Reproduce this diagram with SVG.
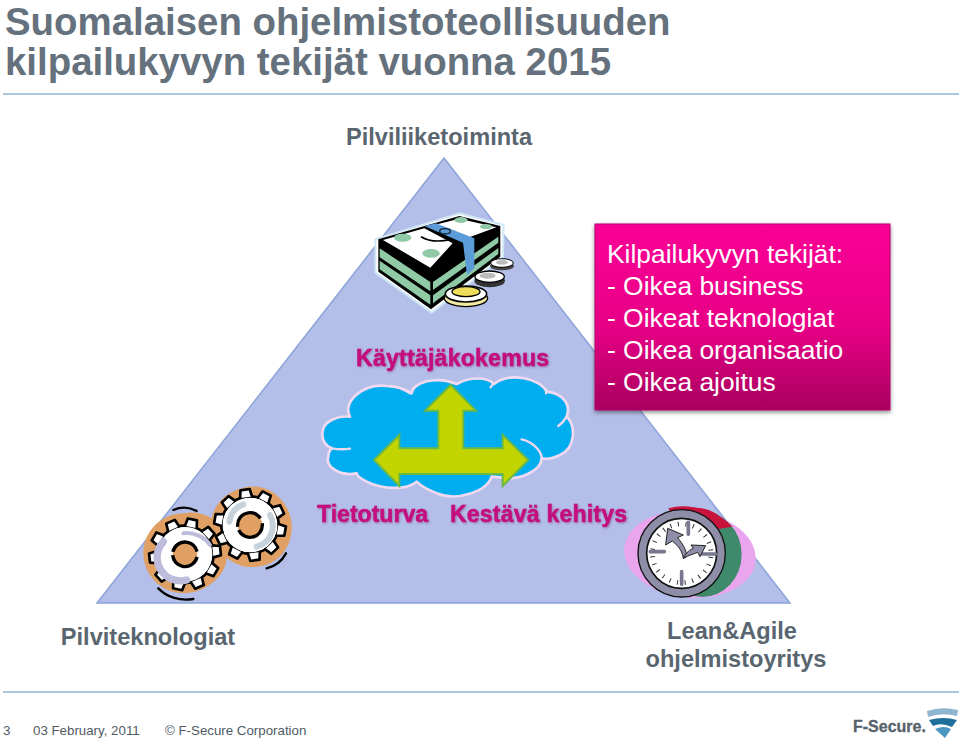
<svg xmlns="http://www.w3.org/2000/svg" width="960" height="739" viewBox="0 0 960 739">
<style>
text{font-family:"Liberation Sans",Arial,sans-serif}
.t{fill:#65717c;font-size:38.4px;font-weight:bold}
.l{fill:#5a666f;font-size:23.6px;font-weight:bold;text-anchor:middle}
.m{fill:#c4087e;font-size:23px;font-weight:bold;stroke:#c4087e;stroke-width:.5px;filter:url(#ts)}
.b{fill:#fff;font-size:26.4px}
.f{fill:#4f5b65;font-size:13.3px}
.rule{stroke:#8fb6d6;stroke-width:1.5;fill:none}
.tooth{fill:#fff;stroke:#000;stroke-width:8;stroke-linejoin:round;stroke-linecap:round}
</style>
<defs>
<linearGradient id="bx" x1="0" y1="0" x2="0" y2="1"><stop offset="0" stop-color="#fa0596"/><stop offset=".55" stop-color="#e80086"/><stop offset="1" stop-color="#a8005f"/></linearGradient>
<filter id="sh" x="-5%" y="-5%" width="110%" height="112%"><feDropShadow dx="0" dy="2" stdDeviation="2" flood-color="#000" flood-opacity=".45"/></filter>
<filter id="ts" x="-5%" y="-20%" width="110%" height="140%"><feDropShadow dx="1" dy="1" stdDeviation="1" flood-color="#7a2a6a" flood-opacity=".5"/></filter>
<path id="tooth" class="tooth" d="M-18-84L-14-107H14L18-84"/>
<g id="gear">
<circle r="86" fill="#fff" stroke="#000" stroke-width="8"/>
<use href="#tooth"/><use href="#tooth" transform="rotate(36)"/><use href="#tooth" transform="rotate(72)"/><use href="#tooth" transform="rotate(108)"/><use href="#tooth" transform="rotate(144)"/><use href="#tooth" transform="rotate(180)"/><use href="#tooth" transform="rotate(216)"/><use href="#tooth" transform="rotate(252)"/><use href="#tooth" transform="rotate(288)"/><use href="#tooth" transform="rotate(324)"/>
<circle r="81" fill="#fff"/>
<circle r="37" fill="#e0a063"/>
<circle r="37" fill="none" stroke="#000" stroke-width="10" stroke-dasharray="105 10 100 17"/>
</g>
</defs>
<rect width="960" height="739" fill="#fff"/>
<g id="header">
<text class="t" x="5" y="35">Suomalaisen ohjelmistoteollisuuden</text>
<text class="t" x="5" y="75">kilpailukyvyn tekijät vuonna 2015</text>
<line class="rule" x1="3" y1="94" x2="959" y2="94"/>
</g>
<g id="pyramid"><polygon points="444,158 97,603 790,603" fill="#b3bfe8" stroke="#8ca3d8" stroke-width="1.5"/></g>
<g id="node-pilviliiketoiminta"><text class="l" x="439" y="145">Pilviliiketoiminta</text></g>
<g id="node-money" transform="translate(341 200) scale(.3333)">
<path d="M103 118L355 40L488 75L486 172L272 338L103 218Z" fill="#fff" stroke="#cfe6f5" stroke-width="6" stroke-linejoin="round"/>
<path d="M112 118L355 48L478 78V170L270 328L112 215Z" fill="#000"/>
<path d="M116 145L268 246V274L116 172ZM116 182L268 286V314L116 208Z" fill="#8fc9a5"/>
<path d="M276 246L472 110V128L276 270ZM276 286L472 144V162L276 310Z" fill="#8fc9a5"/>
<path d="M126 120L250 85L335 130L268 203ZM268 78L355 56L466 82L385 112Z" fill="#fff"/>
<ellipse cx="185" cy="113" rx="26" ry="12" fill="#8fc9a5"/><ellipse cx="270" cy="160" rx="26" ry="13" fill="#8fc9a5"/><ellipse cx="360" cy="60" rx="20" ry="9" fill="#8fc9a5"/><ellipse cx="435" cy="80" rx="18" ry="8" fill="#8fc9a5"/>
<path d="M250 78L285 70L400 115V205L378 225L366 128Z" fill="#5b9bd8"/>
<path d="M240 110C265 125 300 125 330 118" fill="none" stroke="#000" stroke-width="5"/>
<ellipse cx="312" cy="94" rx="16" ry="8" fill="none" stroke="#123" stroke-width="4"/>
<g><ellipse cx="375" cy="295" rx="65" ry="25" fill="#f3e9a0" stroke="#000" stroke-width="4"/><ellipse cx="375" cy="282" rx="62" ry="24" fill="#fff" stroke="#000" stroke-width="5"/><ellipse cx="375" cy="275" rx="42" ry="15" fill="#eedc5a" stroke="#000" stroke-width="4"/></g>
<g><ellipse cx="446" cy="242" rx="46" ry="20" fill="#333"/><ellipse cx="446" cy="230" rx="44" ry="17" fill="#fff" stroke="#000" stroke-width="4"/><ellipse cx="440" cy="227" rx="24" ry="9" fill="#bbb"/></g>
<g><ellipse cx="483" cy="198" rx="36" ry="13" fill="#444"/><ellipse cx="483" cy="189" rx="34" ry="13" fill="#fff" stroke="#000" stroke-width="3"/><ellipse cx="483" cy="187" rx="18" ry="7" fill="#bbb"/></g>
</g>
<g id="node-kayttajakokemus"><text class="m" x="356" y="366" textLength="193">Käyttäjäkokemus</text></g>
<g id="node-cloud" transform="translate(300 370) scale(.3333)">
<path d="M150 140C125 95 190 40 260 48C295 50 320 58 335 70C335 40 405 15 470 42C510 20 560 20 582 42C630 5 720 25 740 65C785 70 815 100 800 140C830 170 825 235 780 255C760 265 740 268 725 265C725 300 660 335 600 322L575 320C560 365 470 395 410 370C385 360 365 350 350 335C320 360 250 360 200 335C180 325 170 315 170 310C120 320 75 290 85 260C85 250 90 240 95 235C60 220 55 170 95 150C110 142 130 138 150 140Z" fill="#00aeef" stroke="#f1daf1" stroke-width="8" stroke-linejoin="round"/>
<path d="M95 235Q125 240 150 236M330 70Q300 50 270 48M582 42Q575 45 572 52M740 65L738 70M800 140Q790 158 775 168M725 265C725 245 700 215 665 208" fill="none" stroke="#f1daf1" stroke-width="7" stroke-linecap="round"/>
</g>
<g id="connectors">
<path transform="translate(300 370) scale(.3333)" d="M452 45L528 122H490V235H608V195L685 270L608 348V312H298V348L222 270L298 195V235H415V122H375Z" fill="#c3d500" stroke="#6cb844" stroke-width="6" stroke-linejoin="miter"/>
</g>
<g id="node-tietoturva"><text class="m" x="317" y="522" textLength="111">Tietoturva</text></g>
<g id="node-kestava"><text class="m" x="450" y="522" textLength="177">Kestävä kehitys</text></g>
<g id="node-gears" transform="translate(130 475) scale(.3333)">
<path d="M160 115A120 120 0 0 1 245 130C260 60 330 30 385 35C450 45 490 110 485 165C480 240 420 285 345 275C315 270 295 250 290 250C285 310 220 355 160 355C90 355 40 295 40 235C40 170 95 115 160 115Z" fill="#e0a063"/>
<path d="M130 105A80 80 0 0 1 200 108M85 340A110 100 0 0 0 190 372M410 280A90 90 0 0 0 468 235" fill="none" stroke="#000" stroke-width="7" stroke-linecap="round"/>
<use href="#gear" transform="translate(165 238) rotate(12)"/>
<use href="#gear" transform="translate(360 150) rotate(-8)"/>
<path d="M100 200A70 70 0 0 0 170 315" fill="none" stroke="#bdbcdc" stroke-width="22" stroke-linecap="round"/>
<path d="M160 175A80 70 0 0 1 240 210" fill="none" stroke="#bdbcdc" stroke-width="12" stroke-linecap="round"/>
<path d="M298 140A65 65 0 0 1 340 88M420 120A65 65 0 0 1 380 215" fill="none" stroke="#c5d2dc" stroke-width="18" stroke-linecap="round"/>
</g>
<g id="node-clock" transform="translate(615 495) scale(.3333)">
<ellipse cx="225" cy="178" rx="198" ry="130" fill="#e9a5ee" transform="rotate(6 225 178)"/>
<ellipse cx="240" cy="150" rx="118" ry="112" fill="#c8143c"/>
<ellipse cx="262" cy="178" rx="118" ry="128" fill="#3f8a6c"/>
<path d="M160 40Q210 25 270 45Q320 60 352 95L200 120Z" fill="#c8143c"/>
<circle cx="200" cy="175" r="131" fill="#8e8ea8" stroke="#111" stroke-width="4"/>
<circle cx="200" cy="175" r="105" fill="#fff" stroke="#111" stroke-width="5"/>
<circle cx="200" cy="175" r="88" fill="none" stroke="#333" stroke-width="14" stroke-dasharray="3 20.04" transform="rotate(7 200 175)"/>
<path d="M220 82V118M200 230V268M106 170H148M262 177H302" stroke="#777790" stroke-width="11" fill="none" stroke-linecap="round"/>
<path d="M205 190C200 160 185 150 172 138L152 150L158 100L205 120L188 128C205 150 215 165 215 185Z" fill="#8e8ea8" stroke="#222" stroke-width="3" stroke-linejoin="round"/>
<path d="M205 190C215 170 225 165 235 160L228 150L272 152L255 185L248 172C235 178 222 180 205 190Z" fill="#8e8ea8" stroke="#222" stroke-width="3" stroke-linejoin="round"/>
</g>
<g id="node-kilpailukyky">
<rect x="595" y="224" width="295" height="186" fill="url(#bx)" stroke="#b0006b" stroke-width="1" filter="url(#sh)"/>
<text class="b" x="607" y="263">Kilpailukyvyn tekijät:</text>
<text class="b" x="607" y="295">- Oikea business</text>
<text class="b" x="607" y="327">- Oikeat teknologiat</text>
<text class="b" x="607" y="359">- Oikea organisaatio</text>
<text class="b" x="607" y="391">- Oikea ajoitus</text>
</g>
<g id="node-pilviteknologiat"><text class="l" x="148" y="645">Pilviteknologiat</text></g>
<g id="node-lean"><text class="l" x="732" y="639">Lean&amp;Agile</text><text class="l" x="736" y="667">ohjelmistoyritys</text></g>
<g id="footer">
<line class="rule" x1="3" y1="692" x2="959" y2="692"/>
<text class="f" x="3" y="735">3</text>
<text class="f" x="33" y="735">03 February, 2011</text>
<text class="f" x="165" y="735">© F-Secure Corporation</text>
</g>
<g id="logo">
<text x="853" y="732" style="font-size:16px;font-weight:bold" fill="#56626c" stroke="#56626c" stroke-width=".3">F-Secure.</text>
<path d="M927 711Q942 706 958 710L957 716Q942 712 928 717Z" fill="#8fb5d0"/>
<path d="M929 720Q944 716 957 720L952 727Q941 722 933 726Z" fill="#1f6f9d"/>
<path d="M935 729Q944 725 951 729L945 738Z" fill="#4a97c4"/>
</g>
</svg>
